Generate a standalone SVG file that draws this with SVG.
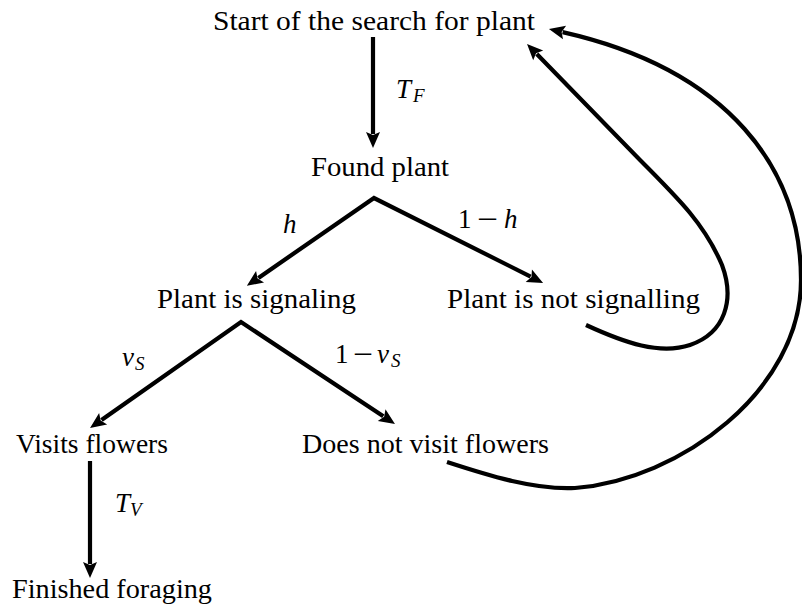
<svg xmlns="http://www.w3.org/2000/svg" width="802" height="606" viewBox="0 0 802 606" font-family="'Liberation Serif', 'Times New Roman', serif">
<defs>
<marker id="ah" markerUnits="userSpaceOnUse" markerWidth="20" markerHeight="20" viewBox="-1 -9 20 18" refX="2" refY="0" orient="auto-start-reverse">
<path d="M0,-7 L16,0 L0,7 L3,0 z" fill="#000"/>
</marker>
</defs>
<style>
text{font-family:'Liberation Serif','Times New Roman',serif}
.t{font-size:27px;fill:#000}
.m{font-size:27px;font-style:italic;fill:#000}
.s{font-size:19px;font-style:italic;fill:#000}
.e{fill:none;stroke:#000;stroke-width:4.2;stroke-linejoin:miter}
</style>
<rect width="802" height="606" fill="#fff"/>
<g id="connectors">
<path class="e" d="M373,37 L373,134" marker-end="url(#ah)"/>
<path class="e" d="M258.4,277.9 L374,198 L530.6,276.6" marker-start="url(#ah)" marker-end="url(#ah)"/>
<path class="e" d="M101.5,420 L241,322 L383.3,416.3" marker-start="url(#ah)" marker-end="url(#ah)"/>
<path class="e" d="M90,461 L90,564" marker-end="url(#ah)"/>
<path class="e" d="M586,325 C625,343 660,355 690,345 C725,333 735,300 722,265 C705,225 680,200 640,160 L536.8,54" marker-end="url(#ah)"/>
<path class="e" d="M447,462 C490,476 535,490 575,488 C680,480 801,390 801,280 C801,170 730,70 562.6,32.1" marker-end="url(#ah)"/>
<g id="labels">
<text class="m" x="396" y="98">T</text><text class="s" x="413" y="102">F</text>
<text class="m" x="283" y="233">h</text>
<text class="t" x="458" y="228">1</text><text class="t" x="477" y="228" textLength="21" lengthAdjust="spacingAndGlyphs">−</text><text class="m" x="504" y="228">h</text>
<text class="m" x="122" y="366">v</text><text class="s" x="135" y="370">S</text>
<text class="t" x="335" y="363">1</text><text class="t" x="353" y="363" textLength="20" lengthAdjust="spacingAndGlyphs">−</text><text class="m" x="377" y="363">v</text><text class="s" x="391" y="367">S</text>
<text class="m" x="115" y="512">T</text><text class="s" x="130" y="516">V</text>
</g>
</g>
<g id="start"><text class="t" x="213" y="30" textLength="322" lengthAdjust="spacingAndGlyphs">Start of the search for plant</text></g>
<g id="found"><text class="t" x="311" y="176" textLength="138" lengthAdjust="spacingAndGlyphs">Found plant</text></g>
<g id="signaling"><text class="t" x="157" y="308" textLength="199" lengthAdjust="spacingAndGlyphs">Plant is signaling</text></g>
<g id="notsignalling"><text class="t" x="447" y="308" textLength="253" lengthAdjust="spacingAndGlyphs">Plant is not signalling</text></g>
<g id="visits"><text class="t" x="16" y="453" textLength="152" lengthAdjust="spacingAndGlyphs">Visits flowers</text></g>
<g id="notvisit"><text class="t" x="302" y="453" textLength="247" lengthAdjust="spacingAndGlyphs">Does not visit flowers</text></g>
<g id="finished"><text class="t" x="12" y="598" textLength="200" lengthAdjust="spacingAndGlyphs">Finished foraging</text></g>
</svg>
